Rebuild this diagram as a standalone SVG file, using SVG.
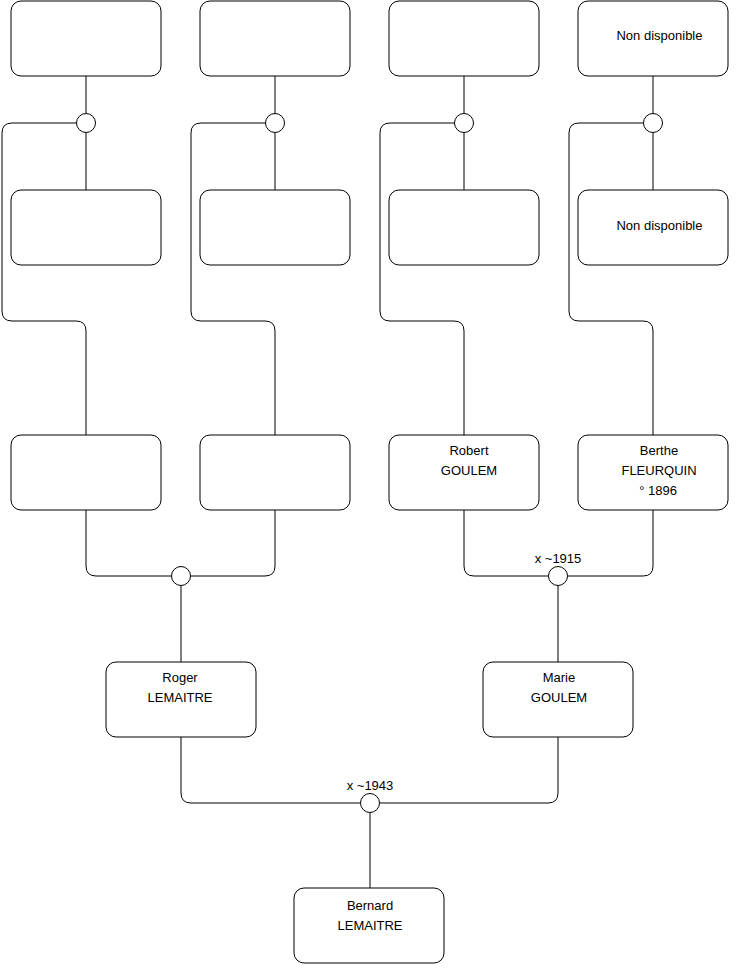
<svg xmlns="http://www.w3.org/2000/svg" width="740" height="975" viewBox="0 0 740 975">
<style>
.box{fill:#fff;stroke:#000;stroke-width:1}
.c{fill:#fff;stroke:#000;stroke-width:1}
.l{fill:none;stroke:#000;stroke-width:1}
text{font-family:"Liberation Sans",Arial,sans-serif;font-size:13px;fill:#000;text-anchor:middle}
</style>
<rect width="740" height="975" fill="#fff"/>
<g id="connectors">
<path class="l" d="M86,76 V113.5 M86,132.5 V190"/>
<path class="l" d="M77.5,123 H12 Q2,123 2,133 V311 Q2,321 12,321 H76 Q86,321 86,331 V435"/>
<path class="l" d="M275,76 V113.5 M275,132.5 V190"/>
<path class="l" d="M265.5,123 H201 Q191,123 191,133 V311 Q191,321 201,321 H265 Q275,321 275,331 V435"/>
<path class="l" d="M464,76 V113.5 M464,132.5 V190"/>
<path class="l" d="M454.5,123 H390 Q380,123 380,133 V311 Q380,321 390,321 H454 Q464,321 464,331 V435"/>
<path class="l" d="M653,76 V113.5 M653,132.5 V190"/>
<path class="l" d="M643.5,123 H579 Q569,123 569,133 V311 Q569,321 579,321 H643 Q653,321 653,331 V435"/>
<path class="l" d="M86,510 V566 Q86,576 96,576 H171.5"/>
<path class="l" d="M275,510 V566 Q275,576 265,576 H190.5"/>
<path class="l" d="M181,585.5 V662"/>
<path class="l" d="M464,510 V566 Q464,576 474,576 H548.5"/>
<path class="l" d="M653,510 V566 Q653,576 643,576 H567.5"/>
<path class="l" d="M558,585.5 V662"/>
<path class="l" d="M181,737 V793 Q181,803 191,803 H360.5"/>
<path class="l" d="M558,737 V793 Q558,803 548,803 H379.5"/>
<path class="l" d="M370,812.5 V888"/>
<circle class="c" cx="86" cy="123" r="9.5"/>
<circle class="c" cx="275" cy="123" r="9.5"/>
<circle class="c" cx="464" cy="123" r="9.5"/>
<circle class="c" cx="653" cy="123" r="9.5"/>
<circle class="c" cx="181" cy="576" r="9.5"/>
<circle class="c" cx="558" cy="576" r="9.5"/>
<circle class="c" cx="370" cy="803" r="9.5"/>
<text x="558" y="563">x ~1915</text>
<text x="370" y="790">x ~1943</text>
</g>
<g id="n1"><rect class="box" x="11" y="1" width="150" height="75" rx="10"/></g>
<g id="n2"><rect class="box" x="200" y="1" width="150" height="75" rx="10"/></g>
<g id="n3"><rect class="box" x="389" y="1" width="150" height="75" rx="10"/></g>
<g id="n4"><rect class="box" x="578" y="1" width="150" height="75" rx="10"/><text x="659.5" y="40">Non disponible</text></g>
<g id="n5"><rect class="box" x="11" y="190" width="150" height="75" rx="10"/></g>
<g id="n6"><rect class="box" x="200" y="190" width="150" height="75" rx="10"/></g>
<g id="n7"><rect class="box" x="389" y="190" width="150" height="75" rx="10"/></g>
<g id="n8"><rect class="box" x="578" y="190" width="150" height="75" rx="10"/><text x="659.5" y="230">Non disponible</text></g>
<g id="n9"><rect class="box" x="11" y="435" width="150" height="75" rx="10"/></g>
<g id="n10"><rect class="box" x="200" y="435" width="150" height="75" rx="10"/></g>
<g id="n11"><rect class="box" x="389" y="435" width="150" height="75" rx="10"/><text x="469" y="455">Robert</text><text x="469" y="475">GOULEM</text></g>
<g id="n12"><rect class="box" x="578" y="435" width="150" height="75" rx="10"/><text x="659" y="455">Berthe</text><text x="659" y="475">FLEURQUIN</text><text x="658" y="495">° 1896</text></g>
<g id="n13"><rect class="box" x="106" y="662" width="150" height="75" rx="10"/><text x="180" y="682">Roger</text><text x="180" y="702">LEMAITRE</text></g>
<g id="n14"><rect class="box" x="483" y="662" width="150" height="75" rx="10"/><text x="559" y="682">Marie</text><text x="559" y="702">GOULEM</text></g>
<g id="n15"><rect class="box" x="294" y="888" width="150" height="75" rx="10"/><text x="370" y="910">Bernard</text><text x="370" y="930">LEMAITRE</text></g>
</svg>
